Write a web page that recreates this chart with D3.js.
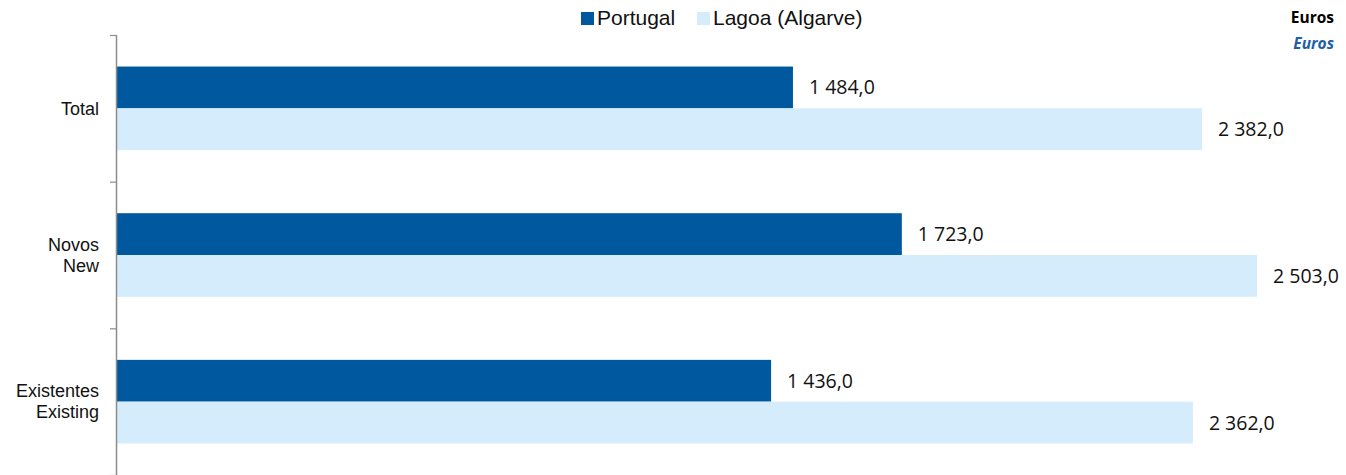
<!DOCTYPE html>
<html>
<head>
<meta charset="utf-8">
<script src="https://cdn.jsdelivr.net/npm/d3@7"></script>
<style>
  body { margin: 0; background: #fff; }
  svg { display: block; }
</style>
</head>
<body>
<div id="chart"></div>
<script>
// data
const categories = [["Total"], ["Novos", "New"], ["Existentes", "Existing"]];
const seriesNames = ["Portugal", "Lagoa (Algarve)"];
const portugal = [1484.0, 1723.0, 1436.0];
const lagoa = [2382.0, 2503.0, 2362.0];

const width = 1346, height = 475;
const colors = ["#00589F", "#D4ECFC"];

const svg = d3.select("#chart").append("svg")
    .attr("width", width)
    .attr("height", height);

const x = d3.scaleLinear()
    .domain([0, 2700])
    .range([117, 117 + 2700 * 0.4555]);

const y = d3.scaleBand()
    .domain(d3.range(categories.length))
    .range([35, 475])
    .paddingInner(0.43)
    .paddingOuter(0.215);

const inner = d3.scaleBand()
    .domain([0, 1])
    .range([0, y.bandwidth()]);

const fmt = v => {
    const s = v.toFixed(1).replace(".", ",");
    const [a, b] = s.split(",");
    return a.replace(/\B(?=(\d{3})+(?!\d))/g, " ") + "," + b;
};

// bars
const values = [portugal, lagoa];
const groups = svg.selectAll("g.cat")
    .data(categories)
    .enter().append("g")
    .attr("class", "cat")
    .attr("transform", (d, i) => `translate(0,${y(i)})`);

values.forEach((vals, s) => {
    groups.append("rect")
        .attr("x", x(0))
        .attr("y", inner(s))
        .attr("width", (d, i) => x(vals[i]) - x(0))
        .attr("height", inner.bandwidth())
        .attr("fill", colors[s]);

    groups.append("text")
        .attr("x", (d, i) => x(vals[i]) + 16)
        .attr("y", inner(s) + inner.bandwidth() / 2)
        .attr("dy", "0.36em")
        .attr("font-family", "Open Sans, sans-serif")
        .attr("font-size", 19.5)
        .attr("fill", "#111")
        .text((d, i) => fmt(vals[i]));
});

// axis line with category boundary ticks
const step = y.step();
const bounds = d3.range(categories.length + 1).map(i => 35 + i * step);
svg.append("line")
    .attr("x1", 116.5).attr("x2", 116.5)
    .attr("y1", 35).attr("y2", 475)
    .attr("stroke", "#8c8c8c").attr("stroke-width", 1.5);
svg.selectAll("line.tick")
    .data(bounds)
    .enter().append("line")
    .attr("class", "tick")
    .attr("x1", 110).attr("x2", 116.5)
    .attr("y1", d => d + 0.5).attr("y2", d => d + 0.5)
    .attr("stroke", "#8c8c8c").attr("stroke-width", 1.2);

// category labels
groups.each(function (lines, i) {
    const g = d3.select(this);
    const cy = y.bandwidth() / 2;
    const lh = 21;
    lines.forEach((t, k) => {
        g.append("text")
            .attr("x", 99)
            .attr("y", cy + (k - (lines.length - 1) / 2) * lh)
            .attr("dy", "0.35em")
            .attr("text-anchor", "end")
            .attr("font-family", "Liberation Sans, Arial, sans-serif")
            .attr("font-size", 18)
            .attr("fill", "#111")
            .text(t);
    });
});

// legend
const legendX = [581, 697];
seriesNames.forEach((name, s) => {
    svg.append("rect")
        .attr("x", legendX[s]).attr("y", 12)
        .attr("width", 13).attr("height", 13)
        .attr("fill", colors[s]);
    svg.append("text")
        .attr("x", legendX[s] + 16).attr("y", 18)
        .attr("dy", "0.35em")
        .attr("font-family", "Liberation Sans, Arial, sans-serif")
        .attr("font-size", 21)
        .attr("fill", "#111")
        .text(name);
});

// unit labels
svg.append("text")
    .attr("x", 1334).attr("y", 18)
    .attr("dy", "0.35em")
    .attr("text-anchor", "end")
    .attr("font-family", "Open Sans, sans-serif")
    .attr("font-weight", "bold")
    .attr("font-size", 15.5)
    .attr("fill", "#000")
    .text("Euros");
svg.append("text")
    .attr("x", 1334).attr("y", 44)
    .attr("dy", "0.35em")
    .attr("text-anchor", "end")
    .attr("font-family", "Open Sans, sans-serif")
    .attr("font-weight", "bold")
    .attr("font-style", "italic")
    .attr("font-size", 15.5)
    .attr("fill", "#1F5FA8")
    .text("Euros");
</script>
</body>
</html>
